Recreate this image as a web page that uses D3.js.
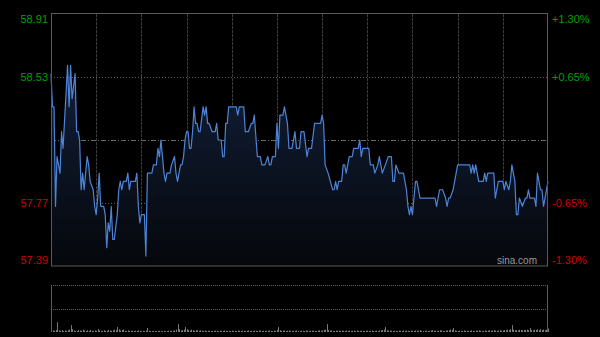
<!DOCTYPE html>
<html><head><meta charset="utf-8">
<script src="https://cdn.jsdelivr.net/npm/d3@7"></script>
<style>html,body{margin:0;padding:0;background:#000;}svg{display:block;}</style>
</head><body>
<svg id="c" width="600" height="337"></svg>
<script>
// ---- data ----
const prevClose = 58.15;
const priceTicks = [58.91, 58.53, 58.15, 57.77, 57.39];
const priceTickLabels = ["58.91", "58.53", "", "57.77", "57.39"];
const pctTickLabels = ["+1.30%", "+0.65%", "", "-0.65%", "-1.30%"];
const totalMinutes = 330;
const timeGrid = [30, 60, 90, 120, 150, 180, 210, 240, 270, 300];
// minute index of each price change
const times = [0,1,2,3,4,5,6,7,8,11,12,13,14,16,17,18,19,20,21,22,24,25,26,28,29,30,31,32,33,35,36,37,38,39,40,41,42,44,45,46,47,48,50,51,52,53,56,57,58,59,60,62,63,64,67,68,70,71,72,73,74,75,76,77,79,80,82,83,84,86,87,88,89,90,91,92,93,94,95,96,97,98,99,101,102,103,104,105,107,109,110,111,113,114,115,116,117,118,123,124,125,128,129,131,133,134,135,137,139,140,142,144,145,146,147,149,150,151,152,154,155,157,158,160,162,163,165,166,168,170,171,173,175,179,180,181,182,184,187,188,189,190,191,193,194,195,196,198,200,201,204,205,206,207,211,212,214,215,217,218,220,224,226,227,228,229,231,234,235,236,237,238,239,240,241,242,243,245,255,256,258,260,262,263,264,265,267,268,269,270,278,279,280,281,282,283,284,287,288,289,290,294,295,297,300,301,302,304,305,306,307,308,309,310,311,313,315,316,317,318,321,322,323,325,326,327,328,330];
const prices = [58.55,58.35,58.35,57.75,58.05,58.00,57.95,58.20,58.10,58.60,58.35,58.60,58.40,58.55,58.20,58.20,58.15,57.85,57.95,57.85,58.05,58.00,57.90,57.85,57.75,57.70,57.80,57.95,57.75,57.75,57.70,57.50,57.65,57.60,57.75,57.55,57.55,57.70,57.85,57.90,57.85,57.90,57.90,57.95,57.85,57.90,57.90,57.95,57.75,57.65,57.70,57.70,57.45,57.95,57.95,58.00,58.00,58.10,58.05,58.15,58.05,57.95,57.90,57.95,57.95,58.00,58.05,57.95,57.90,58.00,58.00,58.05,58.15,58.20,58.20,58.10,58.10,58.20,58.35,58.25,58.25,58.20,58.20,58.35,58.30,58.35,58.25,58.25,58.20,58.20,58.25,58.15,58.15,58.05,58.05,58.25,58.25,58.35,58.35,58.30,58.35,58.35,58.20,58.20,58.25,58.25,58.30,58.05,58.05,58.00,58.00,58.05,58.00,58.00,58.05,58.05,58.25,58.10,58.30,58.30,58.35,58.25,58.10,58.10,58.20,58.10,58.10,58.20,58.20,58.05,58.10,58.10,58.25,58.25,58.30,58.25,58.00,57.95,57.85,57.85,57.90,57.85,57.90,57.90,58.00,58.00,57.95,58.05,58.05,58.10,58.10,58.15,58.05,58.10,58.10,58.00,58.00,57.95,58.00,58.05,57.95,58.05,58.05,57.90,57.90,58.00,57.95,57.95,57.90,57.85,57.75,57.70,57.75,57.70,57.80,57.90,57.90,57.80,57.80,57.75,57.85,57.85,57.80,57.75,57.80,57.80,57.85,57.90,57.95,58.00,58.00,57.95,58.00,57.95,58.00,57.95,57.90,57.90,57.95,57.90,57.95,57.95,57.80,57.90,57.90,57.85,57.90,57.85,57.90,58.00,57.95,57.90,57.70,57.70,57.80,57.75,57.80,57.80,57.85,57.80,57.80,57.75,57.95,57.85,57.85,57.75,57.80,57.90];
// per-minute volume (thousand shares)
const volumes = [20,8,6,10,50,8,6,10,5,8, 6,9,12,35,15,8,6,5,10,7, 6,12,8,5,9,6,10,7,5,8, 6,15,8,6,5,9,6,7,10,8,
 6,8,12,9,25,14,8,10,12,6, 5,8,6,5,7,5,6,5,8,6, 5,6,5,7,20,6,5,4,6,5, 4,5,6,4,5,6,4,5,7,6,
 5,6,8,12,40,15,8,10,12,25, 14,10,8,12,9,7,10,8,6,9, 7,6,8,5,6,7,5,6,5,7, 6,5,7,6,5,8,6,5,6,5,
 7,5,6,5,8,6,5,7,6,5, 6,8,5,6,5,7,6,5,8,6, 5,6,7,5,6,8,6,5,7,6, 10,25,9,6,8,7,5,6,8,6,
 5,7,6,8,6,5,7,6,5,8, 6,5,7,6,8,6,5,7,9,6, 8,10,12,40,10,7,8,6,5,7, 6,8,5,7,6,5,8,6,7,5,
 6,7,5,8,6,5,7,6,5,6, 7,5,6,8,5,6,7,5,8,9, 10,12,25,9,7,8,6,5,7,6, 5,7,6,5,8,6,7,5,6,7,
 6,5,8,6,7,9,6,5,7,6, 5,6,8,10,7,6,5,7,9,8, 6,5,7,8,9,12,10,20,8,6, 5,7,6,5,8,6,7,5,6,8,
 6,5,7,6,9,7,5,6,8,6, 7,9,6,8,10,7,6,8,9,7, 8,10,9,12,10,14,35,12,10,9, 8,12,10,9,11,10,12,9,20,10,
 8,12,10,14,9,15,10,12,9,11, 18];
const volumeMax = 240;

// ---- layout ----
const L = 51, R = 548, T = 14, B = 266;
const VT = 285, VB = 332;
const svg = d3.select("#c");
svg.append("rect").attr("width",600).attr("height",337).attr("fill","#000");

const x = d3.scaleLinear().domain([0,totalMinutes]).range([L,R]);
const y = d3.scaleLinear().domain([57.39,58.91]).range([B,T]);
const vy = d3.scaleLinear().domain([0,volumeMax]).range([VB,VT]);
const px = v => Math.round(v)+0.5;

const defs = svg.append("defs");
const g = defs.append("linearGradient").attr("id","fillg").attr("gradientUnits","userSpaceOnUse")
  .attr("x1",0).attr("x2",0).attr("y1",60).attr("y2",B);
g.append("stop").attr("offset",0).attr("stop-color","#13203a");
g.append("stop").attr("offset",1).attr("stop-color","#05070b");

// vertical grid
svg.append("g").selectAll("line").data(timeGrid).join("line")
  .attr("x1",d=>px(x(d))).attr("x2",d=>px(x(d))).attr("y1",T).attr("y2",B)
  .attr("stroke","#3c3c3c").attr("stroke-dasharray","3,1");
// horizontal grid
svg.append("g").selectAll("line").data(priceTicks.filter((d,i)=>i>0&&i<priceTicks.length-1)).join("line")
  .attr("x1",L).attr("x2",R).attr("y1",d=>px(y(d))).attr("y2",d=>px(y(d)))
  .attr("stroke",d=>d===prevClose?"#6a6a6a":"#5e5e5e")
  .attr("stroke-dasharray",d=>d===prevClose?"5,2,1,2":"1,2");

// area + line
const pts = times.map((t,i)=>({t, p:prices[i]}));
svg.append("path").datum(pts)
  .attr("d", d3.area().x(d=>x(d.t)).y0(B).y1(d=>y(d.p)))
  .attr("fill","url(#fillg)");
svg.append("path").datum(pts)
  .attr("d", d3.line().x(d=>x(d.t)).y(d=>y(d.p)))
  .attr("fill","none").attr("stroke","#4d84d8").attr("stroke-width",1.2)
  .attr("stroke-linejoin","round");

// frame
svg.append("rect").attr("x",L+0.5).attr("y",T-0.5).attr("width",R-L-1).attr("height",B-T+0.5)
  .attr("fill","none").attr("stroke","#5a5a5a");

// labels
const lab = svg.append("g").attr("font-family","'Liberation Sans',Arial,sans-serif").attr("font-size","11px");
const labY = (d,i)=> i===0 ? y(d)+9 : (i===priceTicks.length-1 ? y(d)-2 : y(d)+4);
const col = d => d>prevClose ? "#00a000" : "#d00000";
lab.selectAll("text.l").data(priceTicks).join("text").attr("class","l")
  .attr("x",48).attr("y",labY).attr("text-anchor","end").attr("fill",col)
  .text((d,i)=>priceTickLabels[i]);
lab.selectAll("text.r").data(priceTicks).join("text").attr("class","r")
  .attr("x",552).attr("y",labY).attr("text-anchor","start").attr("fill",col)
  .text((d,i)=>pctTickLabels[i]);
svg.append("text").attr("x",537).attr("y",264).attr("text-anchor","end")
  .attr("font-family","'Liberation Sans',Arial,sans-serif").attr("font-size","10px")
  .attr("fill","#9a9a9a").text("sina.com");

// volume panel
svg.append("g").selectAll("line").data([VT, (VT+VB)/2]).join("line")
  .attr("x1",L).attr("x2",R).attr("y1",d=>px(d)).attr("y2",d=>px(d))
  .attr("stroke","#5e5e5e").attr("stroke-dasharray","1,1");
svg.append("g").selectAll("line").data(volumes).join("line")
  .attr("x1",(d,i)=>px(x(i))).attr("x2",(d,i)=>px(x(i)))
  .attr("y1",VB).attr("y2",d=>vy(d))
  .attr("stroke","#7a7a7a").attr("stroke-width",1);
svg.append("line").attr("x1",L+0.5).attr("x2",L+0.5).attr("y1",VT).attr("y2",VB).attr("stroke","#5a5a5a");
svg.append("line").attr("x1",R-0.5).attr("x2",R-0.5).attr("y1",VT).attr("y2",VB).attr("stroke","#5a5a5a");
</script>
</body></html>
